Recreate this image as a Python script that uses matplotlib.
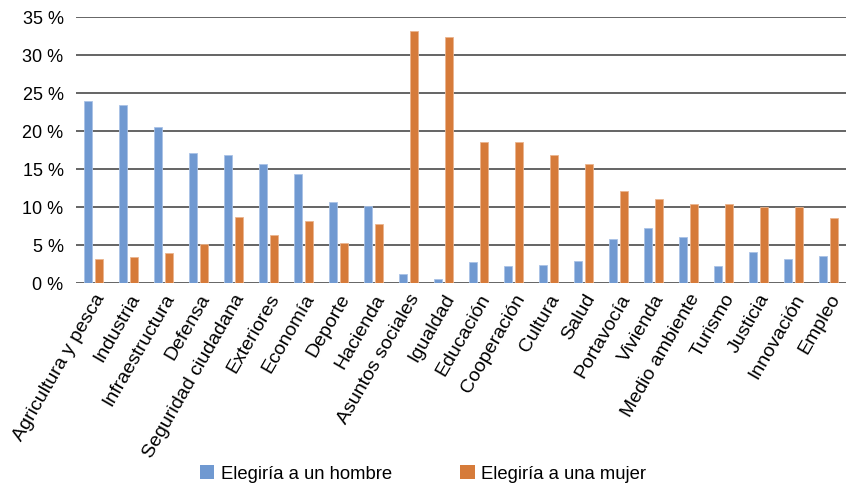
import numpy as np
import matplotlib.pyplot as plt
from matplotlib.patches import Patch

plt.rcParams['font.family'] = ['Liberation Sans', 'DejaVu Sans']

# Carteras ministeriales y porcentaje que elegiría a un hombre / a una mujer
categorias = [
    'Agricultura y pesca', 'Industria', 'Infraestructura', 'Defensa',
    'Seguridad ciudadana', 'Exteriores', 'Economía', 'Deporte', 'Hacienda',
    'Asuntos sociales', 'Igualdad', 'Educación', 'Cooperación', 'Cultura',
    'Salud', 'Portavocía', 'Vivienda', 'Medio ambiente', 'Turismo',
    'Justicia', 'Innovación', 'Empleo',
]
hombre = [23.9, 23.4, 20.5, 17.1, 16.8, 15.7, 14.3, 10.6, 10.1, 1.2, 0.5,
          2.7, 2.2, 2.4, 2.9, 5.8, 7.2, 6.0, 2.2, 4.1, 3.1, 3.6]
mujer = [3.1, 3.4, 3.9, 5.1, 8.7, 6.3, 8.2, 5.3, 7.7, 33.1, 32.4,
         18.6, 18.6, 16.8, 15.7, 12.1, 11.1, 10.4, 10.4, 10.0, 10.0, 8.5]
yticks = [0, 5, 10, 15, 20, 25, 30, 35]

c_hombre = '#7099d1'
c_mujer = '#d67b3a'

fig = plt.figure(figsize=(8.46, 4.86), dpi=100)
ax = fig.add_axes([76 / 846, 1 - 283 / 486, 770 / 846, 266 / 486])

x = np.arange(len(categorias))
w = 0.23
ax.bar(x - 0.145, hombre, w, color=c_hombre, edgecolor='#a9c2e6', linewidth=0.6, zorder=3)
ax.bar(x + 0.145, mujer, w, color=c_mujer, edgecolor='#eab48e', linewidth=0.6, zorder=3)

ax.set_xlim(-0.5, len(categorias) - 0.5)
ax.set_ylim(0, 35)
ax.set_yticks(yticks)
ax.set_yticklabels([f'{v} %' for v in yticks], fontsize=13)
ax.yaxis.grid(True, color='#3a3a3a', linewidth=1.1, zorder=0)
ax.tick_params(axis='both', length=0)
ax.tick_params(axis='y', pad=9)
for s in ax.spines.values():
    s.set_visible(False)

ax.set_xticks(x)
ax.set_xticklabels(categorias, rotation=60, ha='right', rotation_mode='anchor',
                   fontsize=14)
ax.tick_params(axis='x', pad=6)

handles = [Patch(facecolor=c_hombre, label='Elegiría a un hombre'),
           Patch(facecolor=c_mujer, label='Elegiría a una mujer')]
fig.legend(handles=handles, loc='center', bbox_to_anchor=(0.5, 1 - 474 / 486),
           ncol=2, frameon=False, fontsize=13.3, handlelength=0.8,
           handleheight=0.8, handletextpad=0.35, columnspacing=3.7)

fig.savefig('out.png', dpi=100)
